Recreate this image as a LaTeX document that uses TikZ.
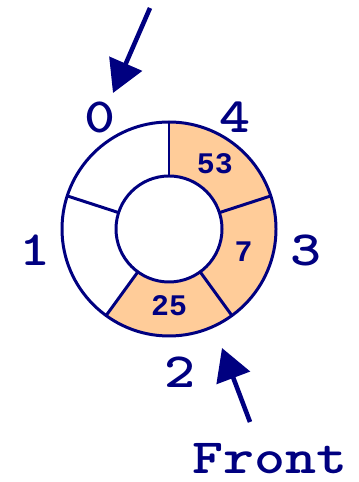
\documentclass[tikz,border=0pt]{standalone}
\usepackage{fontspec}
\newfontfamily\queuefont{Liberation Mono}
\newfontfamily\indexfont{lmmonolt10-bold}[Extension=.otf, FakeStretch=1.2]
\usetikzlibrary{arrows.meta}
\definecolor{ring-line}{HTML}{000080}
\definecolor{slot-fill}{HTML}{FFCC99}
\tikzset{
  ring/.style={draw=ring-line, line width=1.7pt},
  slot-full/.style={fill=slot-fill},
  index-label/.style={
    font=\indexfont\fontsize{28}{28}\selectfont,
    text=ring-line, inner sep=0pt
  },
  value-label/.style={
    font=\queuefont\bfseries\fontsize{17}{17}\selectfont,
    text=ring-line, inner sep=0pt
  },
  pointer/.style={
    draw=ring-line, line width=2.6pt,
    -{Triangle[length=0.64cm, width=0.7cm]}
  }
}

\begin{document}
\begin{tikzpicture}[x=0.02cm, y=0.02cm]
  \useasboundingbox (0,0) rectangle (358,482);

  % ---- Ring buffer ---------------------------------------------------------
  \begin{scope}[shift={(169,253)}]
    \foreach \s in {-126,-54,18}
      \fill[slot-full] (\s:53) -- (\s:107)
        arc[start angle=\s, end angle=\s+72, radius=107]
        -- ({\s+72}:53) arc[start angle=\s+72, end angle=\s, radius=53] -- cycle;
    \draw[ring] (0,0) circle[radius=107];
    \draw[ring] (0,0) circle[radius=53];
    \foreach \a in {90,162,234,306,18}
      \draw[ring] (\a:53) -- (\a:107);

    % ---- Stored values -----------------------------------------------------
    \node[value-label] (v53) at (55:80)  {53};
    \node[value-label] (v7)  at (-17:78) {7};
    \node[value-label] (v25) at (270:77) {25};
  \end{scope}

  % ---- Slot indices --------------------------------------------------------
  \node[index-label] (i0) at (100, 365) {0};
  \node[index-label] (i4) at (235, 365) {4};
  \node[index-label] (i1) at (35,  232) {1};
  \node[index-label] (i3) at (306, 232) {3};
  \node[index-label] (i2) at (180, 110) {2};

  % ---- Pointers ------------------------------------------------------------
  \coordinate (rear-tail) at (150, 474);
  \coordinate (rear-tip)  at (113, 389);
  \draw[pointer] (rear-tail) -- (rear-tip);

  \node[index-label, anchor=base] (front) at (270, 9) {Front};
  \coordinate (front-tail) at (250, 60);
  \coordinate (front-tip)  at (222, 134);
  \draw[pointer] (front-tail) -- (front-tip);

\end{tikzpicture}
\end{document}
